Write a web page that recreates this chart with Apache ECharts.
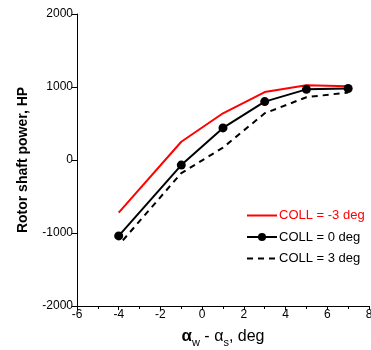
<!DOCTYPE html>
<html><head><meta charset="utf-8">
<script src="https://cdn.jsdelivr.net/npm/echarts@6/dist/echarts.min.js"></script>
<style>html,body{margin:0;padding:0;background:#fff}#c{width:371px;height:350px}</style>
</head><body><div id="c"></div>
<script>
var xTicks = [-6, -4, -2, 0, 2, 4, 6, 8];
var yTicks = [-2000, -1000, 0, 1000, 2000];
var seriesNames = ['COLL = -3 deg', 'COLL = 0 deg', 'COLL = 3 deg'];
var xRed = [-4, -1, 1, 3, 5, 7];
var yRed = [-720, 250, 640, 930, 1025, 1010];
var xBlack = [-4, -1, 1, 3, 5, 7];
var yBlack = [-1040, -70, 440, 800, 968, 980];
var xDash = [-3.8, -1, 1, 3, 5, 7];
var yDash = [-1100, -180, 170, 640, 860, 925];

function pairs(xs, ys) { return xs.map(function (x, i) { return [x, ys[i]]; }); }

var chart = echarts.init(document.getElementById('c'));
var font = 'Liberation Sans, Arial, sans-serif';
chart.setOption({
  animation: false,
  textStyle: { fontFamily: font },
  grid: { left: 77, right: 2, top: 14, bottom: 44, containLabel: false, outerBoundsMode: 'none' },
  xAxis: {
    type: 'value', min: xTicks[0], max: xTicks[xTicks.length - 1], interval: 2,
    axisLine: { show: true, onZero: false, lineStyle: { color: '#000', width: 1 } },
    axisTick: { show: true, inside: false, length: 4, lineStyle: { color: '#000' } },
    minorTick: { show: true, splitNumber: 2, length: 3, lineStyle: { color: '#000' } },
    splitLine: { show: false },
    axisLabel: { color: '#000', fontSize: 12, margin: 3, fontFamily: font, customValues: xTicks,
      formatter: function (v) { return String(v); } },
    name: '{b|α}{sub|w}{n| - α}{sub|s}{n|, deg}',
    nameLocation: 'middle', nameGap: 19,
    nameTextStyle: {
      rich: {
        b: { fontSize: 17, fontWeight: 'bold', color: '#000', fontFamily: font },
        n: { fontSize: 16, color: '#000', fontFamily: font },
        sub: { fontSize: 11, color: '#000', fontFamily: font, padding: [12, 0, 0, 0] }
      }
    }
  },
  yAxis: {
    type: 'value', min: yTicks[0], max: yTicks[yTicks.length - 1], interval: 1000,
    axisLine: { show: true, onZero: false, lineStyle: { color: '#000', width: 1 } },
    axisTick: { show: true, inside: false, length: 5, lineStyle: { color: '#000' } },
    splitLine: { show: false },
    axisLabel: { color: '#000', fontSize: 12, margin: 4, fontFamily: font, customValues: yTicks,
      formatter: function (v) { return String(v); } },
    name: 'Rotor shaft power, HP', nameLocation: 'middle', nameGap: 47,
    nameTextStyle: { fontSize: 14, fontWeight: 'bold', color: '#000', fontFamily: font }
  },
  legend: {
    orient: 'vertical', left: 241, top: 204, itemWidth: 30, itemHeight: 10, itemGap: 8.5,
    textStyle: { fontSize: 13, color: '#000', fontFamily: font, padding: [0, 0, 0, -3] },
    data: [
      { name: seriesNames[0], textStyle: { color: '#ff0000' }, itemStyle: { opacity: 0 } },
      { name: seriesNames[1] },
      { name: seriesNames[2], itemStyle: { opacity: 0 } }
    ]
  },
  series: [
    { name: seriesNames[0], type: 'line', data: pairs(xRed, yRed), symbol: 'none',
      lineStyle: { color: '#ff0000', width: 2 }, itemStyle: { color: '#ff0000' } },
    { name: seriesNames[2], type: 'line', data: pairs(xDash, yDash), symbol: 'none',
      lineStyle: { color: '#000', width: 2, type: [6, 5] }, itemStyle: { color: '#000' } },
    { name: seriesNames[1], type: 'line', data: pairs(xBlack, yBlack), symbol: 'circle', symbolSize: 9,
      lineStyle: { color: '#000', width: 2 }, itemStyle: { color: '#000' } }
  ]
});
</script></body></html>
